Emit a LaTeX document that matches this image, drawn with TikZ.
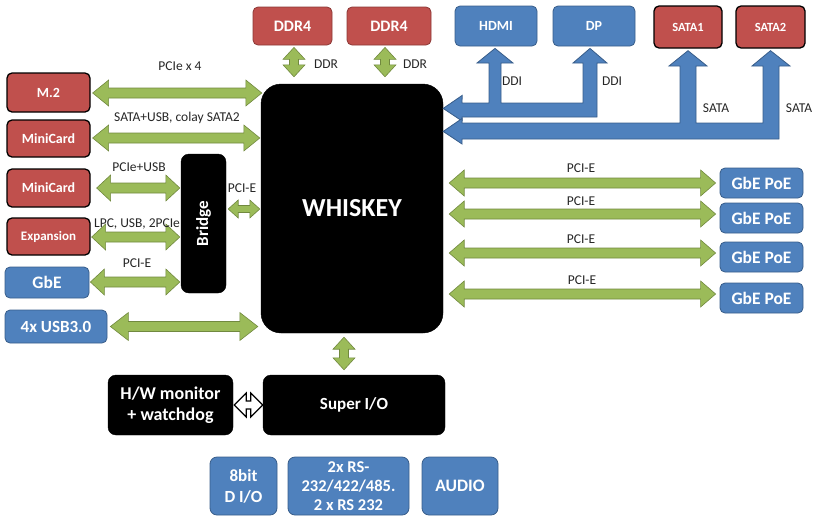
\documentclass[tikz,border=0pt]{standalone}
\usepackage{fontspec}
\setmainfont{Carlito}
\usetikzlibrary{calc}
\definecolor{rd}{HTML}{C0504D}
\definecolor{rdb}{HTML}{8C3836}
\definecolor{bl}{HTML}{4F81BD}
\definecolor{blb}{HTML}{385D8A}
\definecolor{gr}{HTML}{9BBB59}
\definecolor{grb}{HTML}{71893F}
\newcommand\garH[6]{%
\draw[#1] let \p1=(#2), \p2=(#3) in
 (\x1,\y1) -- (\x1+#6,\y1+#4) -- (\x1+#6,\y1+#5) -- (\x2-#6,\y1+#5) -- (\x2-#6,\y1+#4) -- (\x2,\y1)
 -- (\x2-#6,\y1-#4) -- (\x2-#6,\y1-#5) -- (\x1+#6,\y1-#5) -- (\x1+#6,\y1-#4) -- cycle;}
\newcommand\garV[6]{%
\draw[#1] let \p1=(#2), \p2=(#3) in
 (\x1,\y1) -- (\x1+#4,\y1-#6) -- (\x1+#5,\y1-#6) -- (\x1+#5,\y2+#6) -- (\x1+#4,\y2+#6) -- (\x1,\y2)
 -- (\x1-#4,\y2+#6) -- (\x1-#5,\y2+#6) -- (\x1-#5,\y1-#6) -- (\x1-#4,\y1-#6) -- cycle;}
\newcommand\fs[1]{\bfseries\fontsize{#1}{#1}\selectfont}
\tikzset{
 box/.style={rounded corners=5pt,align=center,font=\bfseries,text=white,inner sep=0pt},
 redb/.style={box,fill=rd,draw=black,line width=1.3pt},
 redd/.style={box,fill=rd,draw=rdb,line width=0.8pt},
 blueb/.style={box,fill=bl,draw=blb,line width=0.8pt},
 blackb/.style={box,fill=black,draw=black,rounded corners=8pt},
 garrow/.style={fill=gr,draw=grb,line width=0.6pt,line join=miter},
 warrow/.style={fill=white,draw=black,line width=1.2pt},
 barrow/.style={fill=bl,draw=blb,line width=0.8pt},
 lbl/.style={font=\fontsize{13.5}{15}\selectfont,inner sep=0pt,text=black!85}
}
\begin{document}
\begin{tikzpicture}[x=1pt,y=-1pt]
\useasboundingbox (0,0) rectangle (821,520);
% top boxes
\node[redd,minimum width=79,minimum height=38,font=\fs{16}] (ddr1) at (292.5,26) {DDR4};
\node[redd,minimum width=84,minimum height=38,font=\fs{16}] (ddr2) at (389,26) {DDR4};
\node[blueb,minimum width=82,minimum height=40,font=\fs{14}] (hdmi) at (496,26) {HDMI};
\node[blueb,minimum width=82,minimum height=40,font=\fs{14}] (dp) at (594,26) {DP};
\node[redb,minimum width=68,minimum height=42,font=\fs{12.5}] (sata1) at (688,27) {SATA1};
\node[redb,minimum width=69,minimum height=42,font=\fs{12.5}] (sata2) at (770.5,27) {SATA2};
% left boxes
\node[redb,minimum width=83,minimum height=39,font=\fs{14}] (m2) at (48.5,92.5) {M.2};
\node[redb,minimum width=83,minimum height=37,font=\fs{14}] (mc1) at (48.5,138.5) {MiniCard};
\node[redb,minimum width=83,minimum height=38,font=\fs{14}] (mc2) at (48.5,188) {MiniCard};
\node[redb,minimum width=83,minimum height=37,font=\fs{13}] (exp) at (48.5,236.5) {Expansion};
\node[blueb,minimum width=84,minimum height=31,font=\fs{17.5}] (gbe) at (47,282.5) {GbE};
\node[blueb,minimum width=102,minimum height=33,font=\fs{17}] (usb) at (56,326.5) {4x USB3.0};
% black boxes
\node[blackb,minimum width=45,minimum height=139] (bridge) at (203.5,223.5) {};
\node[text=white,font=\fs{17},rotate=90] at (bridge.center) {Bridge};
\node[blackb,rounded corners=20pt,minimum width=182,minimum height=249,font=\fs{26}] (wh) at (352,208.5) {WHISKEY};
\node[blackb,minimum width=182,minimum height=60,font=\fs{17}] (sio) at (354,405) {Super I/O};
\node[blackb,minimum width=125,minimum height=60,font=\bfseries\fontsize{18}{21}\selectfont] (hw) at (170.5,405) {H/W monitor\\+ watchdog};
% right boxes
\foreach \n/\y in {1/183,2/218,3/257,4/298}{
 \node[blueb,minimum width=83,minimum height=30,font=\fs{17.5}] (poe\n) at (761.5,\y) {GbE PoE};
}
% bottom boxes
\node[blueb,rounded corners=7pt,minimum width=67,minimum height=58,font=\bfseries\fontsize{17}{21}\selectfont] (dio) at (243.5,486) {8bit\\D I/O};
\node[blueb,rounded corners=7pt,minimum width=121,minimum height=58,font=\bfseries\fontsize{16.5}{19}\selectfont] (rs) at (348.5,486) {2x RS-\\232/422/485.\\2 x RS 232};
\node[blueb,rounded corners=7pt,minimum width=76,minimum height=58,font=\fs{17.5}] (audio) at (460,486) {AUDIO};
% green arrows left
\garH{garrow}{$(m2.east)+(2,0.5)$}{$(wh.west|-m2.east)+(1,0.5)$}{13pt}{5pt}{16pt}
\garH{garrow}{$(mc1.east)+(2,-0.5)$}{$(wh.west|-mc1.east)+(-1,-0.5)$}{13pt}{5pt}{16pt}
\garH{garrow}{$(mc2.east)+(6,0)$}{$(bridge.west|-mc2.east)+(-1,0)$}{13pt}{5pt}{14pt}
\garH{garrow}{$(exp.east)+(1,0.5)$}{$(bridge.west|-exp.east)+(-1,0.5)$}{13pt}{5pt}{14pt}
\garH{garrow}{$(gbe.east)+(1,-0.5)$}{$(bridge.west|-gbe.east)+(-1,-0.5)$}{13pt}{5pt}{14pt}
\garH{garrow}{$(usb.east)+(3,0)$}{$(wh.west|-usb.east)+(-3,0)$}{14pt}{5pt}{18pt}
\garH{garrow}{$(bridge.east)+(2,-14.5)$}{$(wh.west|-bridge.east)+(-1,-14.5)$}{9pt}{3.5pt}{10pt}
% green arrows right
\garH{garrow}{$(wh.east|-poe1.west)+(6,0)$}{$(poe1.west)+(-4,0)$}{13pt}{5pt}{15pt}
\garH{garrow}{$(wh.east|-poe2.west)+(6,-4)$}{$(poe2.west)+(-4,-4)$}{13pt}{5pt}{15pt}
\garH{garrow}{$(wh.east|-poe3.west)+(6,-4)$}{$(poe3.west)+(-4,-4)$}{13pt}{5pt}{15pt}
\garH{garrow}{$(wh.east|-poe4.west)+(6,-4)$}{$(poe4.west)+(-4,-4)$}{13pt}{5pt}{15pt}
% vertical green arrows
\garV{garrow}{$(ddr1.south)+(1.5,2)$}{$(ddr1.south|-wh.north)+(1.5,-7)$}{11pt}{4.5pt}{12pt}
\garV{garrow}{$(ddr2.south)+(-4,2)$}{$(ddr2.south|-wh.north)+(-4,-7)$}{11pt}{4.5pt}{12pt}
\garV{garrow}{$(wh.south)+(-8,4)$}{$(wh.south|-sio.north)+(-8,-5)$}{11pt}{4.5pt}{12pt}
% white arrow
\garH{warrow}{$(hw.east)+(1,0)$}{$(sio.west)+(0,0)$}{12pt}{4pt}{12pt}
% blue buses
\coordinate (ddit) at ($(wh.east|-hdmi.south)+(0,62)$);
\coordinate (satat) at ($(wh.east|-hdmi.south)+(0,85)$);
\draw[barrow] (ddit) -- ++(19,-13) -- (462,103) -- (489,103) -- (489,63) -- (477,63)
 -- ($(hdmi.south)+(-1,2)$) -- (513,63) -- (501,63) -- (501,103) -- (583,103) -- (583,63) -- (573,63)
 -- ($(dp.south)+(-4,2)$) -- (607,63) -- (597,63) -- (597,117) -- (462,117) -- (462,121) -- cycle;
\draw[barrow] (satat) -- ++(19,-13) -- (462,123) -- (680,123) -- (680,66) -- (669,66)
 -- ($(sata1.south)+(0,2)$) -- (707,66) -- (696,66) -- (696,123) -- (763,123) -- (763,66) -- (752,66)
 -- ($(sata2.south)+(0,2)$) -- (790,66) -- (779,66) -- (779,139) -- (462,139) -- (462,144) -- cycle;
% labels
\node[lbl] (l1) at (180,66) {PCIe x 4};
\node[lbl] (l2) at (177,118) {SATA+USB, colay SATA2};
\node[lbl] (l3) at (139,167) {PCIe+USB};
\node[lbl] (l4) at (137,224) {LPC, USB, 2PCIe};
\node[lbl] (l5) at (137,263) {PCI-E};
\node[lbl] (l6) at (242,188) {PCI-E};
\node[lbl] (l7) at (326,64) {DDR};
\node[lbl] (l8) at (415,64) {DDR};
\node[lbl] (l9) at (581,168) {PCI-E};
\node[lbl] (l10) at (581,201) {PCI-E};
\node[lbl] (l11) at (581,239) {PCI-E};
\node[lbl] (l12) at (582,280) {PCI-E};
\node[lbl] (l13) at (512,81) {DDI};
\node[lbl] (l14) at (612,81) {DDI};
\node[lbl] (l15) at (716,108) {SATA};
\node[lbl] (l16) at (799,108) {SATA};
\end{tikzpicture}
\end{document}
